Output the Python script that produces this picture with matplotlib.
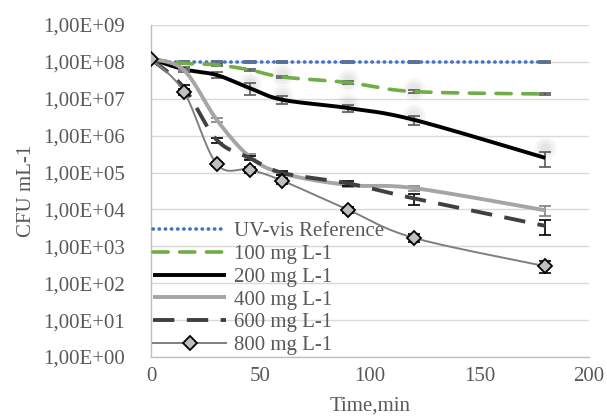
import numpy as np
import matplotlib
matplotlib.use("Agg")
import matplotlib.pyplot as plt
from matplotlib.ticker import FixedLocator, FuncFormatter, NullLocator

plt.rcParams['font.family'] = ['Liberation Serif', 'DejaVu Serif']

time_min = [0, 15, 30, 45, 60, 90, 120, 180]
labels = ["UV-vis Reference", "100 mg L-1", "200 mg L-1", "400 mg L-1", "600 mg L-1", "800 mg L-1"]

ref_vals = [1.0e8, 1.0e8, 1.0e8, 1.0e8, 1.0e8, 1.0e8, 1.0e8, 1.0e8]
ref_err = [0, 4e6, 4e6, 4e6, 4e6, 4e6, 4e6, 4e6]
mg100_vals = [1.2e8, 9.2e7, 8.3e7, 6.1e7, 3.9e7, 2.75e7, 1.57e7, 1.35e7]
mg100_err = [0, 4e6, 5e6, 4e6, 3e6, 2e6, 1.5e6, 1e6]
mg200_vals = [1.2e8, 6.3e7, 4.4e7, 1.95e7, 9.4e6, 5.6e6, 2.7e6, 2.5e5]
mg200_err = [0, 1e7, 8e6, 6.5e6, 2.4e6, 1.1e6, 8e5, 1.1e5]
mg400_vals = [1.2e8, 6.0e7, 2.7e6, 2.7e5, 9.5e4, 4.6e4, 3.8e4, 9.5e3]
mg400_err = [0, 5e6, 4e5, 4e4, 1e4, 5e3, 6e3, 3e3]
mg600_vals = [1.2e8, 2.0e7, 7.7e5, 2.5e5, 9.8e4, 5.1e4, 2.0e4, 3.6e3]
mg600_err = [0, 3e6, 1.2e5, 3e4, 1.2e4, 8e3, 7e3, 1.6e3]
mg800_vals = [1.2e8, 1.55e7, 1.7e5, 1.2e5, 6.0e4, 9.8e3, 1.7e3, 2.9e2]
mg800_err = [0, 3e6, 2e4, 2e4, 1e4, 2e3, 4e2, 1e2]

ytick_vals = [1e0, 1e1, 1e2, 1e3, 1e4, 1e5, 1e6, 1e7, 1e8, 1e9]


def smooth(x, y, n=30):
    """Excel-like smoothed line (Bezier through points in x / log10(y) space)."""
    x = np.asarray(x, float)
    ly = np.log10(np.asarray(y, float))
    P = np.column_stack([x, ly])
    P = np.vstack([P[0], P, P[-1]])
    out = []
    for i in range(1, len(P) - 2):
        p0, p1, p2, p3 = P[i - 1], P[i], P[i + 1], P[i + 2]
        c1 = p1 + (p2 - p0) / 6.0
        c2 = p2 - (p3 - p1) / 6.0
        t = np.linspace(0, 1, n)[:, None]
        b = ((1 - t) ** 3) * p1 + 3 * ((1 - t) ** 2) * t * c1 + 3 * (1 - t) * t ** 2 * c2 + t ** 3 * p2
        out.append(b if i == 1 else b[1:])
    B = np.vstack(out)
    return B[:, 0], 10 ** B[:, 1]


fig = plt.figure(figsize=(6.07, 4.16), dpi=100)
ax = fig.add_axes([0.2488, 0.1418, 0.7215, 0.7981])
ax.set_yscale('log')
ax.set_xlim(0, 200)
ax.set_ylim(1e0, 1e9)

txt = '#595959'
series = [
    (ref_vals, ref_err, dict(color='#4472C4', lw=2.6, ls=(0, (0.1, 1.6)), dash_capstyle='round'), '#595959'),
    (mg100_vals, mg100_err, dict(color='#70AD47', lw=2.6, ls=(0, (4.2, 3.2)), dash_capstyle='round'), '#595959'),
    (mg200_vals, mg200_err, dict(color='black', lw=2.8, ls='-'), '#595959'),
    (mg400_vals, mg400_err, dict(color='#A5A5A5', lw=2.8, ls='-'), '#7F7F7F'),
    (mg600_vals, mg600_err, dict(color='#404040', lw=2.8, ls=(0, (5.5, 3.2))), 'black'),
    (mg800_vals, mg800_err, dict(color='#7F7F7F', lw=1.4, ls='-'), 'black'),
]

handles = []
for k, (vals, err, style, ecol) in enumerate(series):
    ax.errorbar(time_min, vals, yerr=err, fmt='none', ecolor=ecol, elinewidth=1.2,
                capsize=4.5, capthick=1.2, zorder=3 + k)
    sx, sy = smooth(time_min, vals)
    ln, = ax.plot(sx, sy, zorder=3 + k, solid_capstyle='butt', **style)
    if k == 5:
        ax.plot(time_min, vals, ls='none', marker='D', ms=7.5, mfc='#BFBFBF', mec='black', mew=1.3, zorder=10)
        h, = ax.plot([], [], marker='D', ms=7.5, mfc='#BFBFBF', mec='black', mew=1.3,
                     color='#7F7F7F', lw=1.4)
        handles.append(h)
    else:
        handles.append(ln)

# soft glow behind some error bars
for xv, yv in [(45, 2.6e7), (60, 1.2e7), (90, 7e6), (120, 3.6e6), (180, 4.5e5), (60, 4.5e7), (90, 3.3e7), (120, 1.8e7)]:
    for s, a in [(260, 0.06), (150, 0.07), (60, 0.08)]:
        ax.scatter([xv], [yv], s=s, color='#7F7F7F', alpha=a, lw=0, zorder=2)

ax.yaxis.set_major_locator(FixedLocator(ytick_vals))
ax.yaxis.set_minor_locator(NullLocator())
ax.yaxis.set_major_formatter(FuncFormatter(lambda v, p: "1,00E+%02d" % int(round(np.log10(v)))))
ax.set_xticks([0, 50, 100, 150, 200])

ax.grid(axis='y', color='#D9D9D9', lw=1.0, zorder=0)
ax.set_axisbelow(True)
for s in ['top', 'right']:
    ax.spines[s].set_visible(False)
for s in ['left', 'bottom']:
    ax.spines[s].set_color('#BFBFBF')
    ax.spines[s].set_linewidth(1.0)
ax.tick_params(axis='both', length=0, labelsize=15, labelcolor=txt)
ax.tick_params(axis='y', pad=19)
ax.tick_params(axis='x', pad=7)

ax.set_xlabel("Time,min", fontsize=15, color=txt, labelpad=8)
ax.set_ylabel("CFU mL-1", fontsize=15, color=txt, labelpad=5)

leg = ax.legend(handles, labels, loc='lower left', bbox_to_anchor=(0.0, 0.0), frameon=False,
                fontsize=15, handlelength=3.5, handletextpad=0.4, labelspacing=0.15,
                borderaxespad=0.0, borderpad=0.1)
for t in leg.get_texts():
    t.set_color(txt)

fig.savefig("out.png", dpi=100)
